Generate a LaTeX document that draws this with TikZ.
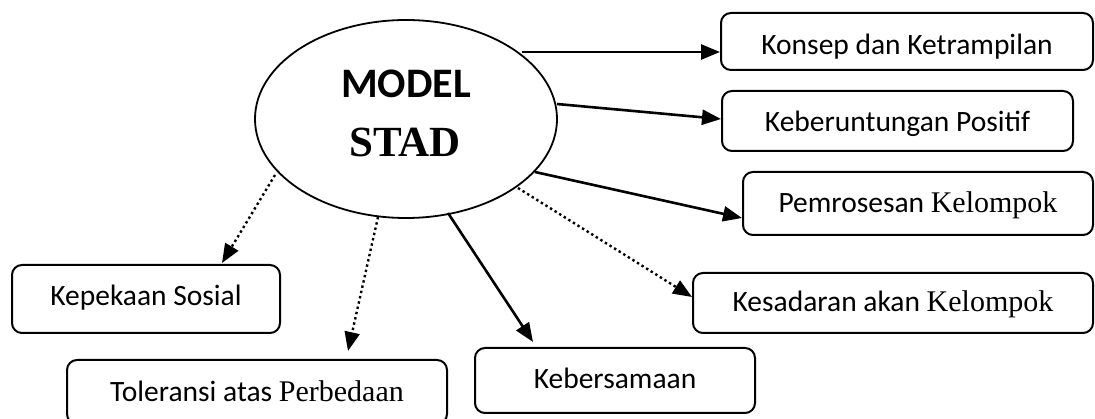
\documentclass[tikz,border=0pt]{standalone}
\usepackage{fontspec}
\setmainfont{Carlito}
\newfontfamily\tnr{Liberation Serif}
\usetikzlibrary{arrows.meta,shapes.geometric}
\begin{document}
\begin{tikzpicture}[x=1pt,y=-1pt,
  box/.style={draw, line width=2pt, rounded corners=10pt, inner sep=0pt,
    font=\fontsize{29.5}{34}\selectfont, text depth=0pt},
  arr/.style={line width=2.6pt, -{Triangle[length=19pt,width=15pt]}},
  darr/.style={line width=2.4pt, dash pattern=on 2.4pt off 3pt, -{Triangle[length=19pt,width=15pt]}}]
\useasboundingbox[fill=white] (0,0) rectangle (1095,419);
% central ellipse
\node[draw, ellipse, line width=1.8pt, minimum width=302pt, minimum height=198pt, inner sep=0pt] (ell) at (406,119) {};
\node[anchor=base, inner sep=0pt, font=\fontsize{42}{42}\selectfont\bfseries] (tmodel) at (406,98) {MODEL};
\node[anchor=base, inner sep=0pt, font=\fontsize{43}{43}\selectfont\bfseries\tnr] (tstad) at (405,157) {STAD};
% boxes
\node[box, minimum width=372pt, minimum height=57pt, text height=27pt] (konsep) at (907,41.5) {Konsep dan Ketrampilan};
\node[box, minimum width=351pt, minimum height=60pt, text height=22pt] (keber) at (897.5,121) {Keberuntungan Positif};
\node[box, minimum width=350pt, minimum height=63pt, text height=19pt] (pemro) at (918,203.5) {Pemrosesan {\tnr\fontsize{30}{34}\selectfont Kelompok}};
\node[box, minimum width=400pt, minimum height=60pt, text height=18pt] (kesad) at (893,303) {Kesadaran akan {\tnr\fontsize{30}{34}\selectfont Kelompok}};
\node[box, minimum width=280pt, minimum height=65pt, text height=17pt] (kebers) at (615,380.5) {Kebersamaan};
\node[box, minimum width=268pt, minimum height=68pt, text height=14pt] (kepek) at (146,299) {Kepekaan Sosial};
\node[box, minimum width=380pt, minimum height=64pt, text height=20pt] (toler) at (257,392) {Toleransi atas {\tnr\fontsize{30}{34}\selectfont Perbedaan}};
% start points on the ellipse
\coordinate (s1) at (522,52);
\coordinate (s2) at (557,104);
\coordinate (s3) at (535,172);
\coordinate (s4) at (518,188);
\coordinate (s5) at (448,213);
\coordinate (s6) at (378,217);
\coordinate (s7) at (275,175);
% connectors
\draw[arr] (s1) -- ([yshift=-10.5pt]konsep.west);
\draw[arr] (s2) -- ([yshift=2pt]keber.west);
\draw[arr] (s3) -- ([yshift=-14.5pt]pemro.west);
\draw[darr] (s4) -- ([yshift=6pt]kesad.west);
\draw[arr] (s5) -- ([xshift=-82pt,yshift=5pt]kebers.north);
\draw[darr] (s6) -- ([xshift=91pt,yshift=8pt]toler.north);
\draw[darr] (s7) -- ([xshift=76pt,yshift=1pt]kepek.north);
\end{tikzpicture}
\end{document}
